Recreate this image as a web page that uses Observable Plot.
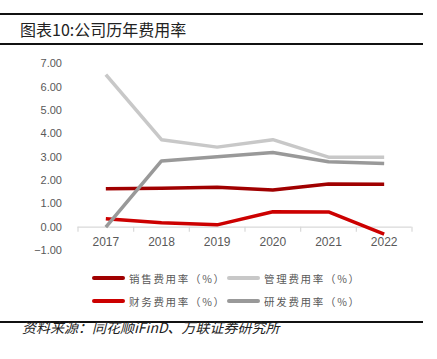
<!DOCTYPE html>
<html><head><meta charset="utf-8">
<script src="https://cdn.jsdelivr.net/npm/d3@7"></script>
<script src="https://cdn.jsdelivr.net/npm/@observablehq/plot@0.6"></script>
<style>
body{margin:0;background:#fff;width:437px;height:359px;position:relative;overflow:hidden;font-family:"Noto Sans CJK SC",sans-serif;}
.hr{position:absolute;left:0;width:423px;height:2px;background:#111;}
#title{position:absolute;left:20px;top:19px;font-size:16px;color:#222;line-height:20px;font-weight:400;}
#chart{position:absolute;left:0;top:45px;}
#legend{position:absolute;left:0;top:0;}
.item{position:absolute;display:flex;align-items:center;height:16px;font-size:10.5px;letter-spacing:1.7px;color:#595959;white-space:nowrap;}
.sw{width:33px;height:3.5px;border-radius:2px;margin-right:4px;flex:none;}
#caption{position:absolute;left:22px;top:318px;font-size:14px;font-style:italic;color:#222;line-height:18px;white-space:nowrap;}
</style></head>
<body>
<div class="hr" style="top:13px"></div>
<div id="title">图表10:公司历年费用率</div>
<div class="hr" style="top:42.5px"></div>
<div id="chart"></div>
<div id="legend"></div>
<div class="hr" style="top:320.5px"></div>
<div id="caption">资料来源：同花顺iFinD、万联证券研究所</div>
<script>
const years = [2017, 2018, 2019, 2020, 2021, 2022];
const sales = [1.65, 1.67, 1.71, 1.59, 1.85, 1.84];
const admin = [6.54, 3.75, 3.43, 3.75, 3.00, 3.00];
const finance = [0.36, 0.19, 0.10, 0.66, 0.65, -0.30];
const rnd = [0.00, 2.84, 3.02, 3.20, 2.80, 2.73];
const seriesNames = ["销售费用率（%）", "管理费用率（%）", "财务费用率（%）", "研发费用率（%）"];
const seriesColors = ["#a00000", "#c8c8c8", "#cc0000", "#999999"];
const yTicks = [-1, 0, 1, 2, 3, 4, 5, 6, 7];

const seriesValues = [sales, admin, finance, rnd];
const data = seriesValues.flatMap((vals, i) => vals.map((v, j) => ({year: years[j], value: v, series: seriesNames[i]})));
const bounds = [years[0] - 0.5, ...years.map(y => y + 0.5)];
const drawOrder = [0, 1, 2, 3];

const chart = Plot.plot({
  width: 437, height: 215,
  marginLeft: 77.5, marginRight: 25.5, marginTop: 18.3, marginBottom: 10,
  style: {fontFamily: "'Liberation Sans', Arial, sans-serif", background: "transparent"},
  x: {type: "linear", domain: [years[0] - 0.5, years[years.length - 1] + 0.5], axis: null},
  y: {domain: [-1, 7], axis: null},
  marks: [
    Plot.axisY({ticks: yTicks, tickSize: 0, tickPadding: 16, tickFormat: d3.format(".2f"), fontSize: 11, fill: "#595959", anchor: "left", label: null}),
    Plot.ruleY([0], {stroke: "#d9d9d9", strokeWidth: 1.2}),
    Plot.ruleX(bounds, {x: d => d, y1: 0, y2: -0.22, stroke: "#d9d9d9", strokeWidth: 1.2}),
    Plot.text(years, {x: d => d, y: 0, dy: 14.5, text: d => String(d), fontSize: 12, fill: "#595959"}),
    ...drawOrder.map(i => Plot.line(data.filter(d => d.series === seriesNames[i]), {
      x: "year", y: "value", stroke: seriesColors[i], strokeWidth: 3.5, strokeLinejoin: "round", strokeLinecap: "butt"
    }))
  ]
});
document.getElementById("chart").appendChild(chart);

const legend = document.getElementById("legend");
const pos = [[92, 270], [227, 270], [92, 293], [227, 293]];
seriesNames.forEach((name, i) => {
  const it = document.createElement("div");
  it.className = "item";
  it.style.left = pos[i][0] + "px";
  it.style.top = pos[i][1] + "px";
  it.innerHTML = `<div class="sw" style="background:${seriesColors[i]}"></div><span>${name}</span>`;
  legend.appendChild(it);
});
</script>
</body></html>
